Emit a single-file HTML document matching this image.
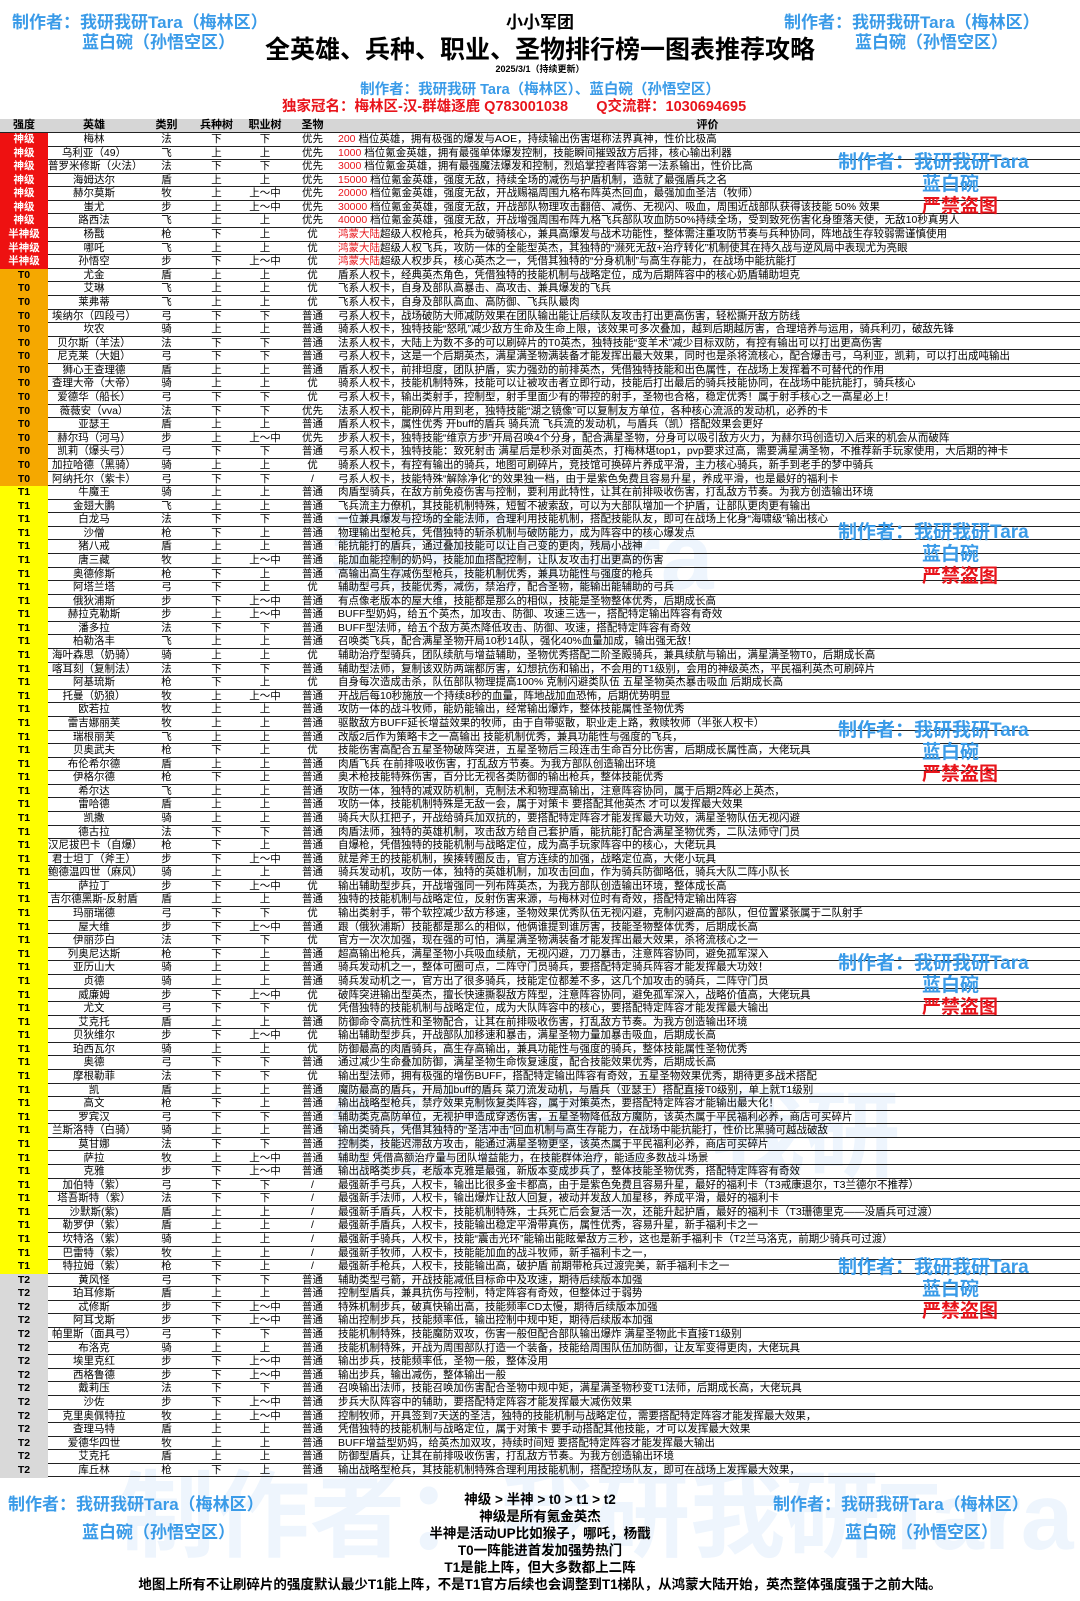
<!DOCTYPE html>
<html><head><meta charset="utf-8">
<style>
html,body{margin:0;padding:0;background:#fff;}
body{width:1080px;height:1601px;position:relative;overflow:hidden;font-family:"Liberation Sans","Noto Sans CJK SC",sans-serif;}
.abs{position:absolute;white-space:nowrap;}
.wm{color:#3a9be8;font-weight:bold;font-size:17px;}
.wmr{color:#e8141b;font-weight:bold;font-size:19px;}
.big{color:rgba(120,180,240,0.13);font-weight:bold;font-size:95px;}
.row{position:absolute;left:0;width:1080px;height:13.58px;border-bottom:1px solid #222;box-sizing:border-box;font-size:10.5px;line-height:12.5px;}
.c{position:absolute;top:0;height:100%;text-align:center;}
.tier{font-weight:bold;}
.desc{position:absolute;left:338px;top:0;white-space:nowrap;}
.red{color:#e8141b;}
.bt{left:0;width:1080px;text-align:center;font-weight:bold;font-size:13.5px;}
</style></head><body>
<div class="abs big" style="left:120px;top:1440px;">制作者：我研我研Tara</div>
<div class="abs big" style="left:330px;top:480px;">我研Tara</div>
<div class="abs big" style="left:330px;top:1060px;">制作者：我研</div>

<div class="abs wm" style="left:12px;top:8px;">制作者：我研我研Tara（梅林区）</div>
<div class="abs wm" style="left:82px;top:28px;">蓝白碗（孙悟空区）</div>
<div class="abs wm" style="left:784px;top:8px;">制作者：我研我研Tara（梅林区）</div>
<div class="abs wm" style="left:855px;top:28px;">蓝白碗（孙悟空区）</div>

<div class="abs" style="left:0;width:1080px;text-align:center;top:8px;font-weight:bold;font-size:17px;">小小军团</div>
<div class="abs" style="left:0;width:1080px;text-align:center;top:30px;font-weight:bold;font-size:25px;">全英雄、兵种、职业、圣物排行榜一图表推荐攻略</div>
<div class="abs" style="left:0;width:1080px;text-align:center;top:62px;font-weight:bold;font-size:9px;">2025/3/1（持续更新）</div>
<div class="abs" style="left:0;width:1080px;text-align:center;top:78px;font-weight:bold;font-size:14.5px;color:#3a9be8;">制作者：我研我研 Tara（梅林区）、蓝白碗（孙悟空区）</div>
<div class="abs" style="left:282px;top:95px;font-weight:bold;font-size:14.5px;color:#e8141b;">独家冠名：梅林区-汉-群雄逐鹿 Q783001038&nbsp;&nbsp;&nbsp;&nbsp;&nbsp;&nbsp;&nbsp;Q交流群：1030694695</div>

<div id="table"></div>

<div class="abs wm" style="left:8px;top:1490px;">制作者：我研我研Tara（梅林区）</div>
<div class="abs wm" style="left:82px;top:1518px;">蓝白碗（孙悟空区）</div>
<div class="abs wm" style="left:773px;top:1490px;">制作者：我研我研Tara（梅林区）</div>
<div class="abs wm" style="left:845px;top:1518px;">蓝白碗（孙悟空区）</div>

<div class="abs bt" style="top:1488px;">神级 &gt; 半神 &gt; t0 &gt; t1 &gt; t2</div>
<div class="abs bt" style="top:1505px;">神级是所有氪金英杰</div>
<div class="abs bt" style="top:1522px;">半神是活动UP比如猴子，哪吒，杨戬</div>
<div class="abs bt" style="top:1539px;">T0一阵能进首发加强势热门</div>
<div class="abs bt" style="top:1556px;">T1是能上阵，但大多数都上二阵</div>
<div class="abs bt" style="top:1573px;">地图上所有不让刷碎片的强度默认最少T1能上阵，不是T1官方后续也会调整到T1梯队，从鸿蒙大陆开始，英杰整体强度强于之前大陆。</div>

<script>
const tiers = ["神级","半神级","T0","T1","T2"];
const tierCounts = [7,3,16,58,15];
const tierColors = {"神级":"#ee1111","半神级":"#ee1111","T0":"#f5a800","T1":"#ffff00","T2":"#d9d9d9"};
const heroes = [
["梅林","法","下","下","优先","200 ","档位英雄，拥有极强的爆发与AOE，持续输出伤害堪称法界真神，性价比极高"],
["乌利亚（49）","飞","上","上","优先","1000 ","档位氪金英雄，拥有最强单体爆发控制，技能瞬间摧毁敌方后排，核心输出利器"],
["普罗米修斯（火法）","法","下","下","优先","3000 ","档位氪金英雄，拥有最强魔法爆发和控制，烈焰掌控者阵容第一法系输出，性价比高"],
["海姆达尔","盾","上","上","优先","15000 ","档位氪金英雄，强度无敌，持续全场的减伤与护盾机制，造就了最强盾兵之名"],
["赫尔莫斯","牧","上","上～中","优先","20000 ","档位氪金英雄，强度无敌，开战赐福周围九格布阵英杰回血，最强加血圣洁（牧师）"],
["蚩尤","步","上","上～中","优先","30000 ","档位氪金英雄，强度无敌，开战部队物理攻击翻倍、减伤、无视闪、吸血，周围近战部队获得该技能 50% 效果"],
["路西法","飞","上","上","优先","40000 ","档位氪金英雄，强度无敌，开战增强周围布阵九格飞兵部队攻血防50%持续全场，受到致死伤害化身堕落天使，无敌10秒真男人"],
["杨戬","枪","下","上","优","鸿蒙大陆","超级人权枪兵，枪兵为破骑核心，兼具高爆发与战术功能性，整体需注重攻防节奏与兵种协同，阵地战生存较弱需谨慎使用"],
["哪吒","飞","上","上","优","鸿蒙大陆","超级人权飞兵，攻防一体的全能型英杰，其独特的“濒死无敌+治疗转化”机制使其在持久战与逆风局中表现尤为亮眼"],
["孙悟空","步","下","上～中","优","鸿蒙大陆","超级人权步兵，核心英杰之一，凭借其独特的“分身机制”与高生存能力，在战场中能抗能打"],
["尤金","盾","上","上","优","","盾系人权卡，经典英杰角色，凭借独特的技能机制与战略定位，成为后期阵容中的核心奶盾辅助坦克"],
["艾琳","飞","上","上","优","","飞系人权卡，自身及部队高暴击、高攻击、兼具爆发的飞兵"],
["莱弗蒂","飞","上","上","优","","飞系人权卡，自身及部队高血、高防御、飞兵队最肉"],
["埃纳尔（四段弓）","弓","下","下","普通","","弓系人权卡，战场破防大师减防效果在团队输出能让后续队友攻击打出更高伤害，轻松撕开敌方防线"],
["坎农","骑","上","上","普通","","骑系人权卡，独特技能“怒吼”减少敌方生命及生命上限，该效果可多次叠加，越到后期越厉害，合理培养与运用，骑兵利刃，破敌先锋"],
["贝尔斯（羊法）","法","下","下","普通","","法系人权卡，大陆上为数不多的可以刷碎片的T0英杰，独特技能“变羊术”减少目标双防，有控有输出可以打出更高伤害"],
["尼克莱（大姐）","弓","下","下","普通","","弓系人权卡，这是一个后期英杰，满星满圣物满装备才能发挥出最大效果，同时也是杀将流核心，配合爆击弓，乌利亚，凯莉，可以打出成吨输出"],
["狮心王查理德","盾","上","上","普通","","盾系人权卡，前排坦度，团队护盾，实力强劲的前排英杰，凭借独特技能和出色属性，在战场上发挥着不可替代的作用"],
["查理大帝（大帝）","骑","上","上","优","","骑系人权卡，技能机制特殊，技能可以让被攻击者立即行动，技能后打出最后的骑兵技能协同，在战场中能抗能打，骑兵核心"],
["爱德华（船长）","弓","下","下","优","","弓系人权卡，输出类射手，控制型，射手里面少有的带控的射手，圣物也合格，稳定优秀！属于射手核心之一高星必上！"],
["薇薇安（vva）","法","下","下","优先","","法系人权卡，能刷碎片用到老，独特技能“湖之镜像”可以复制友方单位，各种核心流派的发动机，必养的卡"],
["亚瑟王","盾","上","上","普通","","盾系人权卡，属性优秀 开buff的盾兵 骑兵流 飞兵流的发动机，与盾兵（凯）搭配效果会更好"],
["赫尔玛（河马）","步","上","上～中","优先","","步系人权卡，独特技能“维京方步”开局召唤4个分身，配合满星圣物，分身可以吸引敌方火力，为赫尔玛创造切入后来的机会从而破阵"],
["凯莉（爆头弓）","弓","下","下","普通","","弓系人权卡，独特技能：致死射击 满星后是秒杀对面英杰，打梅林堪top1，pvp要求过高，需要满星满圣物，不推荐新手玩家使用，大后期的神卡"],
["加拉哈德（黑骑）","骑","上","上","优","","骑系人权卡，有控有输出的骑兵，地图可刷碎片，竞技馆可换碎片养成平滑，主力核心骑兵，新手到老手的梦中骑兵"],
["阿纳托尔（紫卡）","弓","下","下","/","","弓系人权卡，技能特殊“解除净化”的效果独一档，由于是紫色免费且容易升星，养成平滑，也是最好的福利卡"],
["牛魔王","骑","上","上","普通","","肉盾型骑兵，在敌方前免疫伤害与控制，要利用此特性，让其在前排吸收伤害，打乱敌方节奏。为我方创造输出环境"],
["金翅大鹏","飞","上","上","普通","","飞兵流主力僚机，其技能机制特殊，短暂不被索敌，可以为大部队增加一个护盾，让部队更肉更有输出"],
["白龙马","法","下","下","普通","","一位兼具爆发与控场的全能法师，合理利用技能机制，搭配技能队友，即可在战场上化身“海啸级”输出核心"],
["沙僧","枪","下","上","普通","","物理输出型枪兵，凭借独特的斩杀机制与破防能力，成为阵容中的核心爆发点"],
["猪八戒","盾","上","上","普通","","能抗能打的盾兵，通过叠加技能可以让自己变的更肉，残局小战神"],
["唐三藏","牧","上","上～中","普通","","能加血能控制的奶妈，技能加血搭配控制，让队友攻击打出更高的伤害"],
["奥德修斯","枪","下","上","普通","","高输出高生存减伤型枪兵，技能机制优秀，兼具功能性与强度的枪兵"],
["阿塔兰塔","弓","下","上","优","","辅助型弓兵，技能优秀，减伤，禁治疗，配合圣物，能输出能辅助的弓兵"],
["俄狄浦斯","步","下","上～中","普通","","有点像老版本的屋大维，技能都是那么的相似，技能是圣物整体优秀，后期成长高"],
["赫拉克勒斯","步","上","上～中","普通","","BUFF型奶妈，给五个英杰，加攻击、防御、攻速三选一，搭配特定输出阵容有奇效"],
["潘多拉","法","下","下","普通","","BUFF型法师，给五个敌方英杰降低攻击、防御、攻速，搭配特定阵容有奇效"],
["柏勒洛丰","飞","上","上","普通","","召唤类飞兵，配合满星圣物开局10秒14队，强化40%血量加成，输出强无敌！"],
["海叶森思（奶骑）","骑","上","上","优","","辅助治疗型骑兵，团队续航与增益辅助，圣物优秀搭配二阶圣殿骑兵，兼具续航与输出，满星满圣物T0，后期成长高"],
["喀耳刻（复制法）","法","下","下","普通","","辅助型法师，复制该双防两端都厉害，幻想抗伤和输出，不会用的T1级别，会用的神级英杰，平民福利英杰可刷碎片"],
["阿基琉斯","枪","下","上","优","","自身每次造成击杀，队伍部队物理提高100% 克制闪避类队伍 五星圣物英杰暴击吸血 后期成长高"],
["托曼（奶狼）","牧","上","上～中","普通","","开战后每10秒施放一个持续8秒的血量，阵地战加血恐怖，后期优势明显"],
["欧若拉","牧","上","上","普通","","攻防一体的战斗牧师，能奶能输出，经常输出爆炸，整体技能属性圣物优秀"],
["雷吉娜丽芙","牧","上","上","普通","","驱散敌方BUFF延长增益效果的牧师，由于自带驱散，职业走上路，救赎牧师（半张人权卡）"],
["瑞根丽芙","飞","上","上","普通","","改版2后作为策略卡之一高输出 技能机制优秀，兼具功能性与强度的飞兵，"],
["贝奥武夫","枪","下","上","优","","技能伤害高配合五星圣物破阵突进，五星圣物后三段连击生命百分比伤害，后期成长属性高，大佬玩具"],
["布伦希尔德","盾","上","上","普通","","肉盾飞兵 在前排吸收伤害，打乱敌方节奏。为我方部队创造输出环境"],
["伊格尔德","枪","下","上","普通","","奥术枪技能特殊伤害，百分比无视各类防御的输出枪兵，整体技能优秀"],
["希尔达","飞","上","上","普通","","攻防一体，独特的减双防机制，克制法术和物理高输出，注意阵容协同，属于后期2阵必上英杰，"],
["雷哈德","盾","上","上","普通","","攻防一体，技能机制特殊是无敌一会，属于对策卡 要搭配其他英杰 才可以发挥最大效果"],
["凯撒","骑","上","上","普通","","骑兵大队扛把子，开战给骑兵加双抗的，要搭配特定阵容才能发挥最大功效，满星圣物队伍无视闪避"],
["德古拉","法","下","下","普通","","肉盾法师，独特的英雄机制，攻击敌方给自己套护盾，能抗能打配合满星圣物优秀，二队法师守门员"],
["汉尼拔巴卡（自爆）","枪","下","上","普通","","自爆枪，凭借独特的技能机制与战略定位，成为高手玩家阵容中的核心，大佬玩具"],
["君士坦丁（斧王）","步","下","上～中","普通","","就是斧王的技能机制，挨揍转圈反击，官方连续的加强，战略定位高，大佬小玩具"],
["鲍德温四世（麻风）","骑","上","上","普通","","骑兵发动机，攻防一体，独特的英雄机制，加攻击回血，作为骑兵防御略低，骑兵大队二阵小队长"],
["萨拉丁","步","下","上～中","优","","输出辅助型步兵，开战增强同一列布阵英杰，为我方部队创造输出环境，整体成长高"],
["吉尔德黑斯-反射盾","盾","上","上","普通","","独特的技能机制与战略定位，反射伤害来源，与梅林对位时有奇效，搭配特定输出阵容"],
["玛丽瑞德","弓","下","下","优","","输出类射手，带个软控减少敌方移速，圣物效果优秀队伍无视闪避，克制闪避高的部队，但位置紧张属于二队射手"],
["屋大维","步","下","上～中","普通","","跟（俄狄浦斯）技能都是那么的相似，他俩谁提到谁厉害，技能圣物整体优秀，后期成长高"],
["伊丽莎白","法","下","下","优","","官方一次次加强，现在强的可怕，满星满圣物满装备才能发挥出最大效果，杀将流核心之一"],
["列奥尼达斯","枪","下","上","普通","","超高输出枪兵，满星圣物小兵吸血续航，无视闪避，刀刀暴击，注意阵容协同，避免孤军深入"],
["亚历山大","骑","上","上","普通","","骑兵发动机之一，整体可圈可点，二阵守门员骑兵，要搭配特定骑兵阵容才能发挥最大功效！"],
["贞德","骑","上","上","普通","","骑兵发动机之一，官方出了很多骑兵，技能定位都差不多，这几个加攻击的骑兵，二阵守门员"],
["威廉姆","步","下","上～中","优","","破阵突进输出型英杰，擅长快速撕裂敌方阵型，注意阵容协同，避免孤军深入，战略价值高，大佬玩具"],
["尤文","弓","下","下","优","","凭借独特的技能机制与战略定位，成为大队阵容中的核心，要搭配特定阵容才能发挥最大输出"],
["艾克托","盾","上","上","普通","","防御命令高抗性和圣物配合，让其在前排吸收伤害，打乱敌方节奏。为我方创造输出环境"],
["贝狄维尔","步","下","上～中","优","","输出辅助型步兵，开战部队加移速和暴击，满星圣物力量加暴击吸血，后期成长高"],
["珀西瓦尔","骑","上","上","优","","防御最高的肉盾骑兵，高生存高输出，兼具功能性与强度的骑兵，整体技能属性圣物优秀"],
["奥德","弓","下","下","普通","","通过减少生命叠加防御，满星圣物生命恢复速度，配合技能效果优秀，后期成长高"],
["摩根勒菲","法","下","下","优","","输出型法师，拥有极强的增伤BUFF，搭配特定输出阵容有奇效，五星圣物效果优秀，期待更多战术搭配"],
["凯","盾","上","上","普通","","魔防最高的盾兵，开局加buff的盾兵 菜刀流发动机，与盾兵（亚瑟王）搭配直接T0级别，单上就T1级别"],
["高文","枪","下","上","普通","","输出战略型枪兵，禁疗效果克制恢复类阵容，属于对策英杰，要搭配特定阵容才能输出最大化！"],
["罗宾汉","弓","下","下","普通","","辅助类克高防单位，无视护甲造成穿透伤害，五星圣物降低敌方魔防，该英杰属于平民福利必养，商店可买碎片"],
["兰斯洛特（白骑）","骑","上","上","普通","","输出类骑兵，凭借其独特的“圣洁冲击”回血机制与高生存能力，在战场中能抗能打，性价比黑骑可越战破敌"],
["莫甘娜","法","下","下","普通","","控制类，技能迟滞敌方攻击，能通过满星圣物更坚，该英杰属于平民福利必养，商店可买碎片"],
["萨拉","牧","上","上～中","普通","","辅助型 凭借高额治疗量与团队增益能力，在技能群体治疗，能适应多数战斗场景"],
["克雅","步","下","上～中","普通","","输出战略类步兵，老版本克雅是最强，新版本变成步兵了，整体技能圣物优秀，搭配特定阵容有奇效"],
["加伯特（紫）","弓","下","下","/","","最强新手弓兵，人权卡，输出比很多金卡都高，由于是紫色免费且容易升星，最好的福利卡（T3戒康退尔，T3兰德尔不推荐）"],
["塔吾斯特（紫）","法","下","下","/","","最强新手法师，人权卡，输出爆炸让敌人回复，被动并发敌人加星移，养成平滑，最好的福利卡"],
["沙默斯(紫)","盾","上","上","/","","最强新手盾兵，人权卡，技能机制特殊，士兵死亡后会复活一次，还能升起护盾，最好的福利卡（T3珊德里克——没盾兵可过渡）"],
["勒罗伊（紫）","盾","上","上","/","","最强新手盾兵，人权卡，技能输出稳定平滑带真伤，属性优秀，容易升星，新手福利卡之一"],
["坎特洛（紫）","骑","上","上","/","","最强新手骑兵，人权卡，技能“震击光环”能输出能眩晕敌方三秒，这也是新手福利卡（T2兰马洛克，前期少骑兵可过渡）"],
["巴雷特（紫）","牧","上","上","/","","最强新手牧师，人权卡，技能能加血的战斗牧师，新手福利卡之一，"],
["特拉姆（紫）","枪","下","上","/","","最强新手枪兵，人权卡，技能输出高，破护盾 前期带枪兵过渡完美，新手福利卡之一"],
["黄风怪","弓","下","下","普通","","辅助类型弓箭，开战技能减低目标命中及攻速，期待后续版本加强"],
["珀耳修斯","盾","上","上","普通","","控制型盾兵，兼具抗伤与控制，特定阵容有奇效，但整体过于弱势"],
["忒修斯","步","下","上～中","普通","","特殊机制步兵，破真快输出高，技能频率CD太慢，期待后续版本加强"],
["阿耳戈斯","步","下","上～中","普通","","输出控制步兵，技能频率低，输出控制中规中矩，期待后续版本加强"],
["帕里斯（面具弓）","弓","下","下","普通","","技能机制特殊，技能魔防双攻，伤害一般但配合部队输出爆炸 满星圣物此卡直接T1级别"],
["布洛克","骑","上","上","普通","","技能机制特殊，开战为周围部队打造一个装备，技能给周围队伍加防御，让友军变得更肉，大佬玩具"],
["埃里克红","步","下","上～中","普通","","输出步兵，技能频率低，圣物一般，整体没用"],
["西格鲁德","步","下","上～中","普通","","输出步兵，输出减伤，整体输出一般"],
["戴莉压","法","下","下","普通","","召唤输出法师，技能召唤加伤害配合圣物中规中矩，满星满圣物秒变T1法师，后期成长高，大佬玩具"],
["沙佐","步","下","上～中","普通","","步兵大队阵容中的辅助，要搭配特定阵容才能发挥最大减伤效果"],
["克里奥佩特拉","牧","上","上～中","普通","","控制牧师，开具签到7天送的圣洁，独特的技能机制与战略定位，需要搭配特定阵容才能发挥最大效果，"],
["查理马特","盾","上","上","普通","","凭借独特的技能机制与战略定位，属于对策卡 要手动搭配其他技能，才可以发挥最大效果"],
["爱德华四世","牧","上","上","普通","","BUFF增益型奶妈，给英杰加双攻，持续时间短 要搭配特定阵容才能发挥最大输出"],
["艾克托","盾","上","上","普通","","防御型盾兵，让其在前排吸收伤害，打乱敌方节奏。为我方创造输出环境"],
["库丘林","枪","下","上","普通","","输出战略型枪兵，其技能机制特殊合理利用技能机制，搭配控场队友，即可在战场上发挥最大效果，"]
];
const headers = ["强度","英雄","类别","兵种树","职业树","圣物","评价"];
const colL = [0,48,140,193,240,290,335];
const colW = [48,92,53,47,50,45,745];

const table = document.getElementById('table');
const top0 = 119, hh = 14, rh = 13.58;
const head = document.createElement('div');


head.className = 'row';
head.style.top = top0 + 'px';
head.style.height = hh + 'px';
head.style.background = '#d6d6d6';
head.style.fontWeight = 'bold';
head.style.fontSize = '11px';
head.style.lineHeight = '13px';
headers.forEach((h, i) => {
  const c = document.createElement('div');
  
  
  c.className = 'c';
  c.style.left = colL[i] + 'px';
  c.style.width = colW[i] + 'px';
  c.textContent = h;
  head.appendChild(c);
});
table.appendChild(head);

let idx = 0;
tiers.forEach((t, ti) => {
  for (let k = 0; k < tierCounts[ti]; k++) {
    const d = heroes[idx];
    const r = document.createElement('div');
    
    
    r.className = 'row';
    r.style.top = (top0 + hh + idx * rh) + 'px';
    const tc = document.createElement('div');
    
    
    tc.className = 'c tier';
    tc.style.left = '0px';
    tc.style.width = '48px';
    tc.style.height = (rh + 1) + 'px';
    tc.style.background = tierColors[t];
    tc.style.color = (t === '神级' || t === '半神级') ? '#fff' : '#000';
    tc.textContent = t;
    r.appendChild(tc);
    for (let j = 0; j < 5; j++) {
      const c = document.createElement('div');
      
      
      c.className = 'c';
      c.style.left = colL[j + 1] + 'px';
      c.style.width = colW[j + 1] + 'px';
      c.textContent = d[j];
      r.appendChild(c);
    }
    const ds = document.createElement('div');
    
    
    ds.className = 'desc';
    if (d[5]) {
      const s = document.createElement('span');
      
      
      s.className = 'red';
      s.textContent = d[5];
      ds.appendChild(s);
    }
    ds.appendChild(document.createTextNode(d[6]));
    r.appendChild(ds);
    table.appendChild(r);
    idx++;
  }
});

const wmTops = [147, 517, 715, 948, 1252];
wmTops.forEach(y => {
  const a = document.createElement('div');
  
  
  a.className = 'abs wmr';
  a.style.color = '#3a9be8';
  a.style.left = '838px';
  a.style.top = y + 'px';
  a.textContent = '制作者：我研我研Tara';
  document.body.appendChild(a);
  const b = document.createElement('div');
  
  
  b.className = 'abs wmr';
  b.style.color = '#3a9be8';
  b.style.left = '922px';
  b.style.top = (y + 22) + 'px';
  b.textContent = '蓝白碗';
  document.body.appendChild(b);
  const c = document.createElement('div');
  
  
  c.className = 'abs wmr';
  c.style.left = '922px';
  c.style.top = (y + 44) + 'px';
  c.textContent = '严禁盗图';
  document.body.appendChild(c);
});
</script>
</body></html>
